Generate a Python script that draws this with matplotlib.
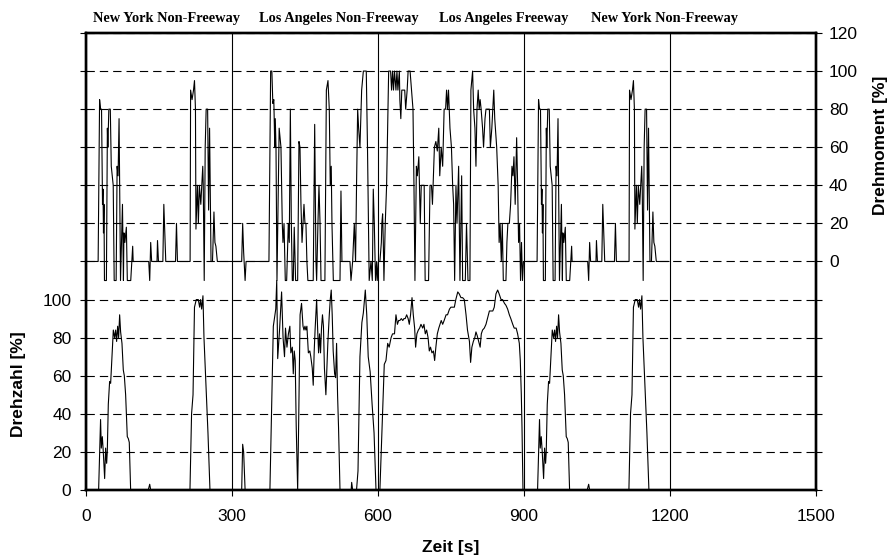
#!/usr/bin/env python3
# Normalised engine speed (Drehzahl) and torque (Drehmoment) over the
# transient test cycle: NY non-freeway, LA non-freeway, LA freeway, NY again.

import matplotlib.pyplot as plt
from matplotlib.ticker import FuncFormatter

# ---- New York Non-Freeway (driven at the start and again at the end) ----
nynf_torque_t = [0, 25, 28, 30, 32, 34, 35, 36, 37, 38, 42, 44, 45, 47, 50, 52, 54, 56,
                 58, 62, 64, 66, 68, 71, 75, 77, 78, 80, 83, 85, 92, 96, 97, 129, 131,
                 133, 135, 146, 147, 149, 158, 160, 164, 184, 186, 188, 214, 215, 218,
                 221, 223, 225, 226, 229, 231, 233, 236, 238, 240, 241, 243, 245, 247,
                 250, 252, 254, 257, 260, 263, 265, 267, 270, 296]
nynf_torque = [0, 0, 85, 80, 80, 30, 38, 15, 30, -10, -10, 70, 60, 80, 80, 50, 45, 40,
               -10, -10, 50, 45, 75, -10, 30, -10, 15, 10, 18, -10, -10, 8, 0, 0, -10,
               10, 0, 0, 11, 0, 0, 30, 0, 0, 20, 0, 0, 90, 85,
               90, 95, 80, 17, 40, 20, 40, 30, 40, 50, 40, -10, 60, 80,
               80, 27, 70, 0, 0, 26, 10, 8, 0, 0]
nynf_speed_t = [0, 26, 30, 31.5, 33.6, 35.6, 38.4, 40.4, 42.5, 43.8, 45.9, 48.6, 50.7,
                53.4, 56.2, 58.9, 61, 63, 65.1, 67.1, 69.2, 71.2, 74, 76.7, 78.8, 81.5,
                84.9, 87, 89, 91.8, 128, 130, 131, 133, 213.7, 217, 220, 223, 226.7,
                230.8, 233.6, 235.6, 237.7, 240.4, 242.5, 246.6, 250.7, 254.8, 296]
nynf_speed = [0, 0, 37, 22, 28, 20, 6, 22, 14, 20, 45, 57, 56,
              70, 84, 80, 84, 78, 86, 80, 92, 83, 77, 63, 60, 50,
              28, 27, 25, 0, 0, 2, 3, 0, 0, 40, 50, 96, 100,
              100, 96, 100, 95, 102, 80, 55, 30, 0, 0]
nynf_repeat_start = 902

# ---- Los Angeles Non-Freeway ----
lanf_torque_t = [320, 322, 324, 327, 329, 376, 379.5, 382, 384, 386, 388, 389, 390.5,
                 392.5, 397, 400.7, 403.4, 404.8, 407, 409.6, 412.4, 415.8, 417.8, 420,
                 422, 424, 426, 428, 430.8, 435, 437.7, 439.8, 441.8, 444, 446, 448, 450,
                 452, 454, 456, 467, 470, 472.6, 474, 476.7, 478.8, 481, 483, 491, 494,
                 497.3, 500, 502, 504, 505.5, 508.3, 522, 524, 526, 542.5, 544.6, 548,
                 551.4, 554, 556, 558.3, 560.3, 563, 566.5, 570, 573, 576, 578.5, 582,
                 585.7, 588.4, 590.4, 592.5, 595, 597.3]
lanf_torque = [0, 20, 5, -10, 0, 0, 100, 100, 83, 85, 60, 75, 60,
               -10, 70, 60, 20, 10, 20, -10, -10, 20, 10, 80,
               20, -10, -10, 18, -10, -10, 63, 60, 30, 10, 20, 30, 20,
               20, 0, -10, -10, 72, 0, -10, 20, 40, 20, -10, -10, 90,
               95, 80, 40, 50, 20, -10, -10, 37, 0, 0, -10, 0,
               20, 0, 40, 80, 70, 60, 90, 100, 100, 100, 60, -10,
               0, -10, 38, 20, -10, 0]
lanf_speed_t = [320, 322, 324, 327, 378, 385, 390, 392, 394, 398, 402, 405, 408, 410,
                413, 416, 419, 421, 424, 426, 428, 430, 432, 435, 437, 440, 443, 446,
                448, 450, 452, 454, 457, 460, 462, 465, 467, 469, 471, 474, 476, 478,
                480, 482, 484, 486, 488, 490, 493, 495, 497, 500, 502, 504, 506, 508,
                511, 513, 515, 517, 519, 522, 545, 546, 548, 556, 559, 563, 567, 570,
                574, 577, 580, 584, 588, 592, 596]
lanf_speed = [0, 24, 20, 0, 0, 86, 95, 110, 69, 85, 104, 80, 70, 85,
              75, 82, 86, 72, 75, 61, 73, 68, 34, 0, 34, 92, 98, 86,
              84, 86, 84, 86, 72, 73, 70, 64, 55, 73, 85, 100, 85, 72,
              82, 72, 85, 92, 86, 64, 50, 64, 77, 92, 100, 105, 92, 73,
              61, 59, 77, 50, 33, 0, 0, 4, 0, 0, 10, 70, 88, 93,
              105, 92, 70, 62, 45, 30, 0]

# ---- Los Angeles Freeway ----
lafy_torque_t = [598.5, 601, 604, 607, 608, 609.6, 611, 612.3, 615, 617.8, 620, 622,
                 626, 628, 630, 632, 634, 637, 639, 641, 644, 645, 647, 649, 652, 655,
                 657, 660, 662, 666, 669, 672, 674, 676, 679, 681, 684, 687, 689, 692,
                 695, 697, 704, 707, 710, 712, 716, 719, 722, 725, 727, 730, 733, 736,
                 739, 741, 743, 745, 748, 751, 753.5, 755.5, 757.6, 760.3, 762.4, 765.8,
                 768.5, 772, 774, 779.5, 782, 785, 789, 791, 794.5, 796.6, 799.3, 801.4,
                 803.5, 806, 808, 810, 812, 815, 817, 820, 822, 825, 829, 831, 834, 836,
                 838, 840, 844, 847, 849, 851, 853.5, 855.5, 857.6, 863, 865, 867, 870,
                 872.6, 875.4, 877.4, 879.5, 882, 885, 887, 889, 891, 893, 895, 897, 899]
lafy_torque = [-10, 0, 0, 10, 20, 25, 10, -10, 20, 40, 70, 100,
               100, 90, 100, 90, 100, 90, 100, 90, 100, 85, 75, 90, 90, 90,
               80, 90, 100, 100, 90, 80, 40, -10, 50, 45, 55, 20, 40, 40,
               40, -10, -10, 40, 40, 30, 60, 63, 58, 70, 45, 60, 50, 80,
               80, 90, 80, 90, 70, 60, 40, 30, -10, 40, 20, 50,
               -10, 45, -10, -10, 20, -10, -10, 90, 100, 80, 70, 50,
               80, 90, 80, 85, 80, 70, 60, 75, 80, 80, 80, 60, 70, 80,
               90, 75, 60, 40, 10, 20, 0, 20, -10, -10, 10, 20, 20,
               30, 50, 45, 55, 30, 65, 40, 10, 20, -10, 10, -10, 0]
lafy_speed_t = [604, 613, 616.5, 620, 623, 627, 630, 634, 637, 640, 642.5, 645, 648,
                651, 653.4, 656, 659, 662, 664.4, 667, 670, 672.6, 675.4, 677.4, 680,
                683, 685.6, 688.4, 692, 694.5, 697.3, 700, 703, 705.5, 708, 711, 714,
                716.5, 719, 722, 725, 727.4, 730, 733, 736, 740, 743, 747, 750, 753.5,
                757, 760, 764, 767, 770.6, 774, 777.4, 781, 784, 788, 790.4, 793, 796,
                799, 801.4, 804, 807, 810, 812.4, 815, 818.5, 822, 825, 829, 832, 836,
                839, 842.5, 846, 849, 853, 856, 860, 863, 866.5, 870, 873, 877, 880,
                884, 887, 890.5, 892.5, 894.6, 896, 898]
lafy_speed = [0, 66, 68, 77, 75, 80, 82, 82, 92, 87, 89, 89, 90,
              89, 90, 90, 92, 90, 87, 92, 101, 92, 85, 75, 82,
              84, 85, 87, 85, 87, 82, 84, 80, 73, 75, 72, 73,
              68, 75, 82, 85, 87, 89, 87, 89, 92, 92, 95, 96, 96,
              96, 100, 104, 103, 101, 101, 100, 92, 84, 78, 67, 75, 78,
              80, 83, 81, 78, 75, 82, 84, 85, 87, 90, 94, 94, 94,
              96, 103, 105, 103, 100, 100, 98, 97, 95, 92, 90, 87, 85,
              85, 82, 77, 68, 50, 33, 0]

segment_names = ['New York Non-Freeway', 'Los Angeles Non-Freeway',
                 'Los Angeles Freeway', 'New York Non-Freeway']

# whole cycle, in time order
torque_t = (nynf_torque_t + lanf_torque_t + lafy_torque_t
            + [t + nynf_repeat_start for t in nynf_torque_t])
torque = nynf_torque + lanf_torque + lafy_torque + nynf_torque
speed_t = (nynf_speed_t + lanf_speed_t + lafy_speed_t
           + [t + nynf_repeat_start for t in nynf_speed_t])
speed = nynf_speed + lanf_speed + lafy_speed + nynf_speed

plt.rcParams['font.family'] = ['Liberation Sans', 'DejaVu Sans']

fig = plt.figure(figsize=(8.89, 5.58), dpi=100)
ax = fig.add_axes([0.0967, 0.1219, 0.8211, 0.819])
ax2 = ax.twinx()

ax.plot(speed_t, speed, color='black', lw=0.8)
ax2.plot(torque_t, torque, color='black', lw=0.8)

ax.set_xlim(0, 1500)
ax.set_ylim(0, 240)
ax2.set_ylim(-120, 120)

ax.set_xticks(range(0, 1501, 300))
ax.set_yticks(range(0, 241, 20))
ax2.set_yticks(range(-120, 121, 20))
ax.yaxis.set_major_formatter(FuncFormatter(lambda v, p: f'{v:.0f}' if v <= 100 else ''))
ax2.yaxis.set_major_formatter(FuncFormatter(lambda v, p: f'{v:.0f}' if v >= 0 else ''))

ax.xaxis.grid(True, color='black', lw=0.8, ls='-')
ax.yaxis.grid(True, color='black', lw=0.8, ls=(0, (7.5, 4.5)))
ax.set_axisbelow(True)

for a in (ax, ax2):
    for s in a.spines.values():
        s.set_linewidth(1.7)
    a.tick_params(direction='out', length=4.5, width=0.8, labelsize=12.5, colors='black')
ax.tick_params(axis='x', pad=9)
ax.tick_params(axis='y', pad=6)
ax2.tick_params(axis='y', pad=5)

lab = dict(fontsize=12.5, fontweight='bold')
ax.set_xlabel('Zeit [s]', **lab)
ax.xaxis.set_label_coords(0.5, -0.109)
ax.set_ylabel('Drehzahl [%]', **lab)
ax.yaxis.set_label_coords(-0.092, 0.232)
ax2.set_ylabel('Drehmoment [%]', **lab)
ax2.yaxis.set_label_coords(1.088, 0.755)
for l in (ax.yaxis.label, ax2.yaxis.label):
    l.set_va('center')
    l.set_ha('center')

label_x = [166, 520, 859, 1188]
for x, name in zip(label_x, segment_names):
    ax.text(x, 1.031, name, transform=ax.get_xaxis_transform(), ha='center', va='center',
            fontsize=10.4, fontweight='bold', family=['Liberation Serif', 'DejaVu Serif'])

fig.savefig('out.png', dpi=100)
